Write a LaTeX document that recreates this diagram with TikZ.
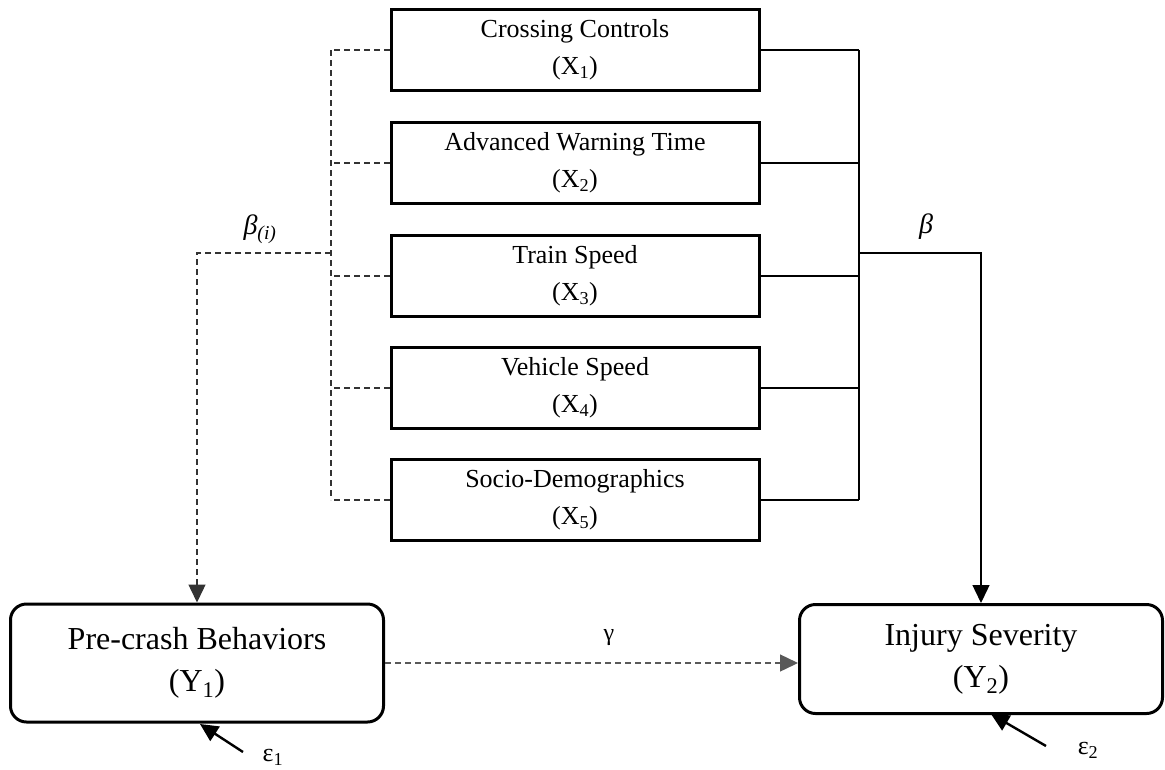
\documentclass[tikz,border=0pt]{standalone}
\usepackage{fontspec}
\setmainfont{Liberation Serif}
\usetikzlibrary{arrows.meta}
\begin{document}
\begin{tikzpicture}[x=1pt,y=-1pt,
  xbox/.style={draw,line width=3pt,minimum width=368pt,minimum height=81pt,inner sep=0pt,align=center,font=\fontsize{26}{37}\selectfont},
  ybox/.style={draw,line width=3pt,rounded corners=16pt,inner sep=0pt,align=center,font=\fontsize{32}{42}\selectfont},
  solidline/.style={line width=1.4pt},
  dashline/.style={line width=1.4pt,draw=black!80,dash pattern=on 6pt off 4pt},
  tip/.style={-{Triangle[length=18pt,width=17pt]}},
  lbl/.style={font=\fontsize{26}{30}\selectfont,inner sep=0pt}
]
\useasboundingbox (0,0) rectangle (1165,769);
\node[xbox] (x1) at (575,50)  {Crossing Controls\\(X\textsubscript{1})};
\node[xbox] (x2) at (575,163) {Advanced Warning Time\\(X\textsubscript{2})};
\node[xbox] (x3) at (575,276) {Train Speed\\(X\textsubscript{3})};
\node[xbox] (x4) at (575,388) {Vehicle Speed\\(X\textsubscript{4})};
\node[xbox] (x5) at (575,500) {Socio-Demographics\\(X\textsubscript{5})};
\node[ybox,minimum width=373pt,minimum height=118pt] (y1) at (197,663) {Pre-crash Behaviors\\(Y\textsubscript{1})};
\node[ybox,minimum width=363pt,minimum height=109pt] (y2) at (981,659) {Injury Severity\\(Y\textsubscript{2})};
\coordinate (lb) at (331,253);
\coordinate (rb) at (859,253);
\coordinate (e1) at (243,752);
\coordinate (e2) at (1046,746);
% left dashed bus
\foreach \n in {x1,x2,x3,x4,x5} {\draw[dashline] (\n.west) -- (\n.west -| lb);}
\draw[dashline] (x1.west -| lb) -- (x5.west -| lb);
\draw[dashline,tip] (lb) -- (lb -| y1.north) -- (y1.north);
% right solid bus
\foreach \n in {x1,x2,x3,x4,x5} {\draw[solidline] (\n.east) -- (\n.east -| rb);}
\draw[solidline] (x1.east -| rb) -- (x5.east -| rb);
\draw[solidline,tip] (rb) -- (rb -| y2.north) -- (y2.north);
% gamma
\draw[dashline,draw=black!65,tip] (y1.east) -- (y2.west |- y1.east);
% errors
\draw[line width=2.4pt,tip] (e1) -- (200,724);
\draw[line width=2.4pt,tip] (e2) -- (991,714);
% labels
\node[lbl,font=\fontsize{28}{30}\selectfont\itshape] (bi) at (260,229) {β\textsubscript{(i)}};
\node[lbl,font=\fontsize{28}{30}\selectfont\itshape] (b) at (926,227) {β};
\node[lbl,font=\fontsize{24}{26}\selectfont] (g) at (609,638) {γ};
\node[lbl] (ep1) at (273,757) {ε\textsubscript{1}};
\node[lbl] (ep2) at (1088,750) {ε\textsubscript{2}};
\end{tikzpicture}
\end{document}
